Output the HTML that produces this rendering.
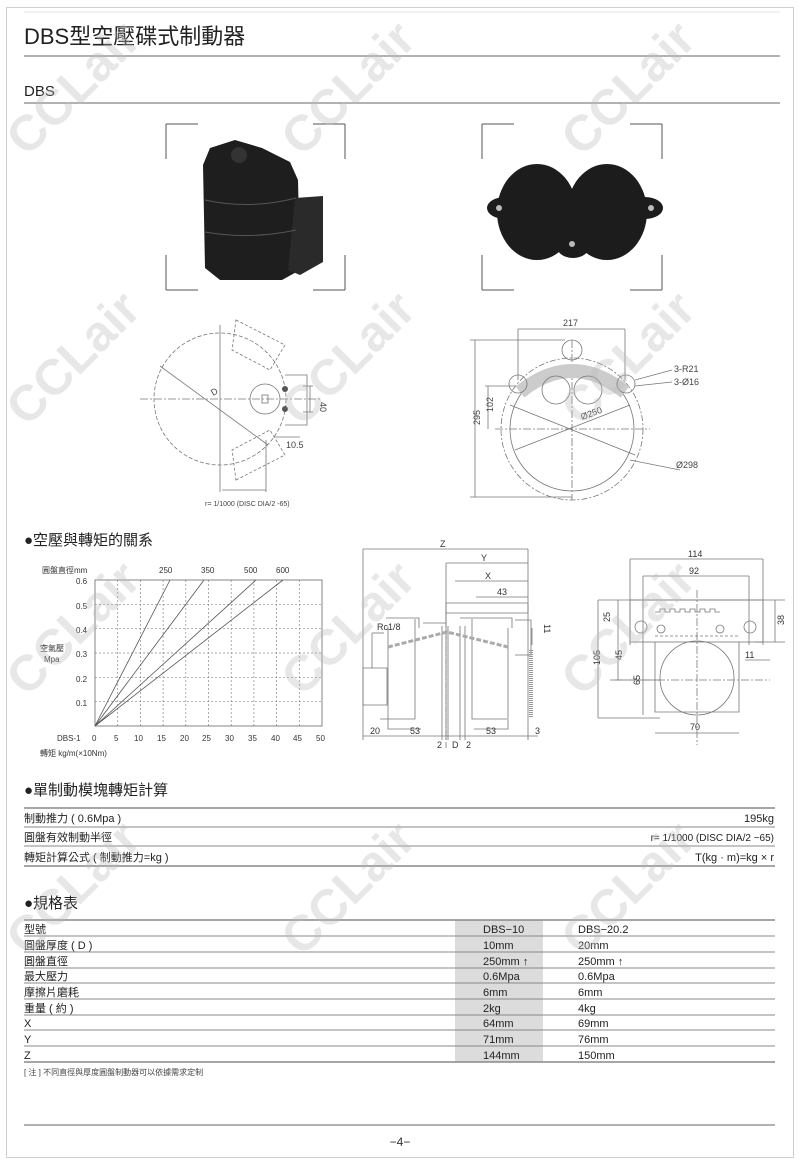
<!DOCTYPE html>
<html><head><meta charset="utf-8"><style>
html,body{margin:0;padding:0;background:#fff;width:800px;height:1160px;overflow:hidden;}
svg{display:block;font-family:"Liberation Sans","Noto Sans CJK TC",sans-serif;overflow:hidden;}
</style></head><body>
<svg width="800" height="1160" viewBox="0 0 800 1160" xmlns="http://www.w3.org/2000/svg">
<rect x="6.5" y="7.5" width="787" height="1150" fill="none" stroke="#d0d0d0"/>
<line x1="24" y1="12" x2="780" y2="12" stroke="#e4e4e4"/>
<text x="24" y="44" font-size="22" fill="#222">DBS型空壓碟式制動器</text>
<line x1="24" y1="56" x2="780" y2="56" stroke="#666"/>
<text x="24" y="96" font-size="15" fill="#222">DBS</text>
<line x1="24" y1="103" x2="780" y2="103" stroke="#666"/>

<g stroke="#555" stroke-width="1" fill="none">
<path d="M166 124h32M166 124v35M345 124h-32M345 124v35M166 290h32M166 290v-35M345 290h-32M345 290v-35"/>
<path d="M482 124h32M482 124v35M662 124h-32M662 124v35M482 290h32M482 290v-35M662 290h-32M662 290v-35"/>
</g>
<g fill="#1e1e1e">
<path d="M203 165 L210 148 L235 140 L262 148 L290 162 L298 180 L300 270 L282 280 L220 280 L205 268 Z"/>
<path d="M295 198 L323 196 L323 262 L300 275 L288 270 Z" fill="#2a2a2a"/>
<circle cx="239" cy="155" r="8" fill="#333"/>
</g>
<g stroke="#555" fill="none"><path d="M205 200 Q250 210 296 198M205 232 Q250 240 296 230"/></g>
<g fill="#1c1c1c">
<ellipse cx="537" cy="212" rx="40" ry="48"/>
<ellipse cx="607" cy="212" rx="40" ry="48"/>
<ellipse cx="505" cy="208" rx="18" ry="11"/>
<ellipse cx="645" cy="208" rx="18" ry="11"/>
<ellipse cx="573" cy="245" rx="17" ry="13"/>
</g>
<g fill="#bbb"><circle cx="499" cy="208" r="3"/><circle cx="651" cy="208" r="3"/><circle cx="572" cy="244" r="3"/></g>

<g stroke="#777" fill="none" stroke-width="0.8">
<circle cx="220" cy="399" r="66" stroke-dasharray="4 2"/>
<line x1="140" y1="399" x2="320" y2="399" stroke-dasharray="8 2 2 2"/>
<line x1="220" y1="325" x2="220" y2="492"/>
<line x1="160" y1="366" x2="268" y2="445"/>
<circle cx="265" cy="399" r="15"/>
<rect x="262" y="395" width="6" height="8"/>
<path d="M236 320 L285 345 L270 370 L232 350 Z" stroke-dasharray="3 2"/>
<path d="M236 480 L285 455 L270 430 L232 450 Z" stroke-dasharray="3 2"/>
<path d="M285 375 h22 v50 h-22"/>
<line x1="266" y1="492" x2="266" y2="440"/>
<line x1="222" y1="490" x2="266" y2="490"/>
<line x1="303" y1="386" x2="313" y2="386"/><line x1="303" y1="412" x2="313" y2="412"/>
<line x1="310" y1="386" x2="310" y2="412"/>
<line x1="275" y1="437" x2="300" y2="437"/>
</g>
<g fill="#555"><circle cx="285" cy="389" r="3"/><circle cx="285" cy="409" r="3"/></g>
<text x="213" y="396" font-size="9" fill="#444" transform="rotate(-30 213 396)">D</text>
<text x="320" y="402" font-size="9" fill="#444" transform="rotate(90 320 402)">40</text>
<text x="286" y="448" font-size="9" fill="#444">10.5</text>
<text x="205" y="506" font-size="7" fill="#444">r= 1/1000 (DISC DIA/2 -65)</text>

<g stroke="#777" fill="none" stroke-width="0.8">
<circle cx="572" cy="429" r="62"/>
<circle cx="572" cy="429" r="71" stroke-dasharray="6 2 2 2"/>
<line x1="495" y1="429" x2="650" y2="429" stroke-dasharray="8 2 2 2"/>
<line x1="572" y1="340" x2="572" y2="500" stroke-dasharray="8 2 2 2"/>
<line x1="510" y1="405" x2="635" y2="455"/>
<line x1="515" y1="450" x2="630" y2="405"/>
<path d="M520 392 Q572 350 625 392" stroke-width="14" stroke="#ccc"/>
<circle cx="518" cy="384" r="9"/><circle cx="626" cy="384" r="9"/><circle cx="572" cy="350" r="10"/>
<circle cx="556" cy="390" r="14"/><circle cx="588" cy="390" r="14"/>
<line x1="518" y1="329" x2="625" y2="329"/>
<line x1="518" y1="329" x2="518" y2="380"/><line x1="625" y1="329" x2="625" y2="380"/>
<line x1="475" y1="340" x2="475" y2="497"/>
<line x1="470" y1="340" x2="565" y2="340"/><line x1="470" y1="497" x2="572" y2="497"/>
<line x1="488" y1="386" x2="488" y2="429"/><line x1="485" y1="386" x2="515" y2="386"/>
<line x1="635" y1="380" x2="672" y2="370"/><line x1="635" y1="386" x2="672" y2="382"/>
<line x1="630" y1="460" x2="680" y2="470"/>
</g>
<g font-size="9" fill="#444">
<text x="563" y="326">217</text>
<text x="480" y="425" transform="rotate(-90 480 425)">295</text>
<text x="493" y="412" transform="rotate(-90 493 412)">102</text>
<text x="674" y="372">3-R21</text>
<text x="674" y="385">3-Ø16</text>
<text x="582" y="420" transform="rotate(-20 582 420)">Ø250</text>
<text x="676" y="468">Ø298</text>
</g>

<text x="24" y="545" font-size="15" fill="#222">●空壓與轉矩的關系</text>
<g stroke="#888" stroke-width="0.7" stroke-dasharray="2 2">
<line x1="117.7" y1="580" x2="117.7" y2="726"/><line x1="140.4" y1="580" x2="140.4" y2="726"/><line x1="163.1" y1="580" x2="163.1" y2="726"/><line x1="185.8" y1="580" x2="185.8" y2="726"/><line x1="208.5" y1="580" x2="208.5" y2="726"/><line x1="231.2" y1="580" x2="231.2" y2="726"/><line x1="253.9" y1="580" x2="253.9" y2="726"/><line x1="276.6" y1="580" x2="276.6" y2="726"/><line x1="299.3" y1="580" x2="299.3" y2="726"/>
<line x1="95" y1="604.3" x2="322" y2="604.3"/><line x1="95" y1="628.7" x2="322" y2="628.7"/><line x1="95" y1="653" x2="322" y2="653"/><line x1="95" y1="677.3" x2="322" y2="677.3"/><line x1="95" y1="701.7" x2="322" y2="701.7"/>
</g>
<rect x="95" y="580" width="227" height="146" fill="none" stroke="#666" stroke-width="0.8"/>
<g stroke="#555" stroke-width="0.8">
<line x1="95" y1="726" x2="170" y2="580"/><line x1="95" y1="726" x2="204" y2="580"/><line x1="95" y1="726" x2="256" y2="580"/><line x1="95" y1="726" x2="283" y2="580"/>
</g>
<g font-size="8" fill="#333">
<text x="42" y="573">圓盤直徑mm</text>
<text x="159" y="573">250</text><text x="201" y="573">350</text><text x="244" y="573">500</text><text x="276" y="573">600</text>
<text x="76" y="584">0.6</text><text x="76" y="609">0.5</text><text x="76" y="633">0.4</text><text x="76" y="657">0.3</text><text x="76" y="682">0.2</text><text x="76" y="706">0.1</text>
<text x="40" y="651">空氣壓</text><text x="44" y="662">Mpa</text>
<text x="57" y="741">DBS-1</text>
<text x="92" y="741">0</text><text x="114" y="741">5</text><text x="134" y="741">10</text><text x="157" y="741">15</text><text x="180" y="741">20</text><text x="202" y="741">25</text><text x="225" y="741">30</text><text x="248" y="741">35</text><text x="271" y="741">40</text><text x="293" y="741">45</text><text x="316" y="741">50</text>
<text x="40" y="756">轉矩  kg/m(×10Nm)</text>
</g>

<g stroke="#777" fill="none" stroke-width="0.8">
<line x1="363" y1="549" x2="528" y2="549"/><line x1="363" y1="549" x2="363" y2="740"/><line x1="528" y1="549" x2="528" y2="740"/>
<line x1="446" y1="563" x2="528" y2="563"/><line x1="446" y1="563" x2="446" y2="740"/>
<line x1="455" y1="581" x2="528" y2="581"/>
<line x1="476" y1="597" x2="528" y2="597"/>
<path d="M446 603 h82 v10 h-82 z"/>
<path d="M386 618 h33 v10 M446 613 v10 h-23 M460 618 h52 v10"/>
<path d="M415 619 v100 h-35"/><path d="M472 619 v100 h35"/>
<path d="M388 627 v102 h33 M508 628 v101 h-34"/>
<path d="M515 620 h16 v35 h-16"/>
<path d="M363 668 h24 v37 h-24 z"/>
<line x1="446" y1="610" x2="446" y2="748" stroke-dasharray="6 2 2 2"/>
<line x1="448" y1="626" x2="448" y2="740"/><line x1="460" y1="626" x2="460" y2="740"/>
<line x1="442" y1="626" x2="442" y2="740"/><line x1="465" y1="626" x2="465" y2="740"/>
<line x1="363" y1="736" x2="538" y2="736"/>
<line x1="372" y1="633" x2="372" y2="668"/><line x1="372" y1="633" x2="384" y2="633"/>
<line x1="532" y1="628" x2="532" y2="645"/>
</g>
<path d="M388 647 L447 632 L508 647" stroke="#aaa" stroke-width="3" fill="none" stroke-dasharray="5 2"/>
<g stroke="#999"><line x1="531" y1="650" x2="531" y2="718" stroke-width="4" stroke-dasharray="1 1"/></g>
<g font-size="9" fill="#333">
<text x="440" y="547">Z</text><text x="481" y="561">Y</text><text x="485" y="579">X</text><text x="497" y="595">43</text>
<text x="377" y="630">Rc1/8</text>
<text x="544" y="624" transform="rotate(90 544 624)">11</text>
<text x="370" y="734">20</text><text x="410" y="734">53</text><text x="486" y="734">53</text><text x="535" y="734">3</text>
<text x="437" y="748">2</text><text x="452" y="748">D</text><text x="466" y="748">2</text>
</g>

<g stroke="#777" fill="none" stroke-width="0.8">
<line x1="630" y1="559" x2="763" y2="559"/><line x1="630" y1="559" x2="630" y2="645"/><line x1="763" y1="559" x2="763" y2="645"/>
<line x1="643" y1="576" x2="749" y2="576"/><line x1="643" y1="576" x2="643" y2="715"/><line x1="749" y1="576" x2="749" y2="645"/>
<line x1="598" y1="600" x2="785" y2="600"/>
<rect x="630" y="600" width="133" height="42"/>
<path d="M655 612 h5 v-3 h5 v3 h5 v-3 h5 v3 h5 v-3 h5 v3 h5 v-3 h5 v3 h5 v-3 h5 v3 h5 v-3 h5 v3 h5"/>
<line x1="655" y1="636" x2="740" y2="636" stroke-dasharray="3 2"/>
<circle cx="641" cy="627" r="6"/><circle cx="750" cy="627" r="6"/>
<circle cx="661" cy="629" r="4"/><circle cx="720" cy="629" r="4"/>
<circle cx="697" cy="678" r="37"/>
<path d="M655 642 v70 h84 v-70"/>
<line x1="598" y1="600" x2="598" y2="718"/><line x1="598" y1="718" x2="660" y2="718"/>
<line x1="618" y1="600" x2="618" y2="680"/><line x1="610" y1="680" x2="660" y2="680"/>
<line x1="775" y1="600" x2="775" y2="642"/><line x1="755" y1="642" x2="785" y2="642"/>
<line x1="745" y1="660" x2="770" y2="660"/>
<line x1="655" y1="733" x2="739" y2="733"/>
<line x1="697" y1="590" x2="697" y2="745" stroke-dasharray="8 2 2 2"/>
<line x1="615" y1="680" x2="770" y2="680" stroke-dasharray="8 2 2 2"/>
</g>
<g font-size="9" fill="#333">
<text x="688" y="557">114</text><text x="689" y="574">92</text>
<text x="610" y="622" transform="rotate(-90 610 622)">25</text>
<text x="784" y="625" transform="rotate(-90 784 625)">38</text>
<text x="600" y="665" transform="rotate(-90 600 665)">105</text>
<text x="622" y="660" transform="rotate(-90 622 660)">45</text>
<text x="640" y="685" transform="rotate(-90 640 685)">65</text>
<text x="745" y="658">11</text><text x="690" y="730">70</text>
</g>

<text x="24" y="795" font-size="15" fill="#222">●單制動模塊轉矩計算</text>
<g stroke="#888" stroke-width="1">
<line x1="24" y1="808" x2="775" y2="808" stroke-width="1.5"/>
<line x1="24" y1="827" x2="775" y2="827"/>
<line x1="24" y1="846" x2="775" y2="846"/>
<line x1="24" y1="866" x2="775" y2="866" stroke-width="1.5"/>
</g>
<g font-size="11" fill="#222">
<text x="24" y="822">制動推力 ( 0.6Mpa )</text>
<text x="24" y="841">圓盤有效制動半徑</text>
<text x="24" y="861">轉矩計算公式 ( 制動推力=kg )</text>
<text x="774" y="822" text-anchor="end">195kg</text>
<text x="774" y="841" text-anchor="end" font-size="10">r= 1/1000 (DISC DIA/2 −65)</text>
<text x="774" y="861" text-anchor="end">T(kg · m)=kg × r</text>
</g>

<text x="24" y="908" font-size="15" fill="#222">●規格表</text>
<rect x="455" y="920" width="88" height="142" fill="#dcdcdc"/>
<g stroke="#888" stroke-width="1">
<line x1="24" y1="920" x2="775" y2="920" stroke-width="1.5"/>
<line x1="24" y1="936" x2="775" y2="936"/><line x1="24" y1="952" x2="775" y2="952"/><line x1="24" y1="968" x2="775" y2="968"/><line x1="24" y1="983" x2="775" y2="983"/><line x1="24" y1="999" x2="775" y2="999"/><line x1="24" y1="1015" x2="775" y2="1015"/><line x1="24" y1="1030" x2="775" y2="1030"/><line x1="24" y1="1046" x2="775" y2="1046"/>
<line x1="24" y1="1062" x2="775" y2="1062" stroke-width="1.5"/>
</g>
<g font-size="11" fill="#222">
<text x="24" y="933">型號</text><text x="483" y="933">DBS−10</text><text x="578" y="933">DBS−20.2</text>
<text x="24" y="949">圓盤厚度 ( D )</text><text x="483" y="949">10mm</text><text x="578" y="949">20mm</text>
<text x="24" y="965">圓盤直徑</text><text x="483" y="965">250mm ↑</text><text x="578" y="965">250mm ↑</text>
<text x="24" y="980">最大壓力</text><text x="483" y="980">0.6Mpa</text><text x="578" y="980">0.6Mpa</text>
<text x="24" y="996">摩擦片磨耗</text><text x="483" y="996">6mm</text><text x="578" y="996">6mm</text>
<text x="24" y="1012">重量 ( 約 )</text><text x="483" y="1012">2kg</text><text x="578" y="1012">4kg</text>
<text x="24" y="1027">X</text><text x="483" y="1027">64mm</text><text x="578" y="1027">69mm</text>
<text x="24" y="1043">Y</text><text x="483" y="1043">71mm</text><text x="578" y="1043">76mm</text>
<text x="24" y="1059">Z</text><text x="483" y="1059">144mm</text><text x="578" y="1059">150mm</text>
</g>
<text x="24" y="1075" font-size="8" fill="#444">[ 注 ]      不同直徑與厚度圓盤制動器可以依據需求定制</text>
<line x1="24" y1="1125" x2="775" y2="1125" stroke="#666"/>
<text x="400" y="1146" font-size="12" fill="#333" text-anchor="middle">−4−</text>

<g font-size="50" font-weight="bold" fill="#bbb" opacity="0.35" text-anchor="middle">
<text transform="translate(85,100) rotate(-45)">CCLair</text>
<text transform="translate(360,100) rotate(-45)">CCLair</text>
<text transform="translate(640,100) rotate(-45)">CCLair</text>
<text transform="translate(85,370) rotate(-45)">CCLair</text>
<text transform="translate(360,370) rotate(-45)">CCLair</text>
<text transform="translate(640,370) rotate(-45)">CCLair</text>
<text transform="translate(85,640) rotate(-45)">CCLair</text>
<text transform="translate(360,640) rotate(-45)">CCLair</text>
<text transform="translate(640,640) rotate(-45)">CCLair</text>
<text transform="translate(85,900) rotate(-45)">CCLair</text>
<text transform="translate(360,900) rotate(-45)">CCLair</text>
<text transform="translate(640,900) rotate(-45)">CCLair</text>
</g>
</svg>
</body></html>
